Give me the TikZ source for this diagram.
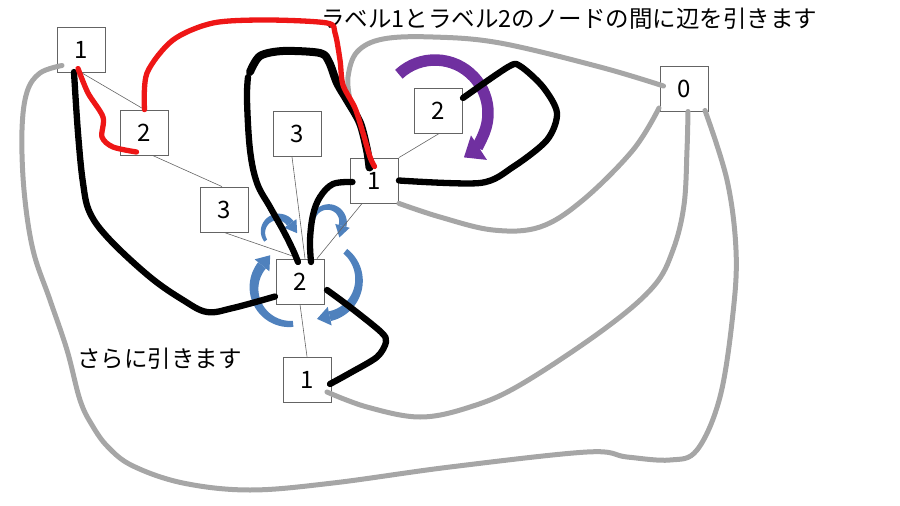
\documentclass[tikz,border=0pt]{standalone}
\usepackage{fontspec}
\setmainfont{Noto Sans CJK JP}
\usetikzlibrary{arrows.meta,calc}
\definecolor{lgray}{RGB}{166,166,166}
\definecolor{tgray}{RGB}{100,100,100}
\definecolor{bred}{RGB}{238,22,22}
\definecolor{vpurple}{RGB}{112,48,160}
\definecolor{sblue}{RGB}{79,129,189}
% tapered curved arrow: cx, cy, r, start angle, end angle, start width, end width, head length, head width
\newcommand\taparrow[9]{%
 \fill[sblue] plot[domain=#4:#5, samples=40] ({#1+(#3+(#6+(#7-#6)*(\x-#4)/(#5-#4))/2)*cos(\x)},{#2+(#3+(#6+(#7-#6)*(\x-#4)/(#5-#4))/2)*sin(\x)})
   -- plot[domain=#5:#4, samples=40] ({#1+(#3-(#6+(#7-#6)*(\x-#4)/(#5-#4))/2)*cos(\x)},{#2+(#3-(#6+(#7-#6)*(\x-#4)/(#5-#4))/2)*sin(\x)}) -- cycle;
 \fill[sblue] ({#1+(#3+#9/2)*cos(#5)},{#2+(#3+#9/2)*sin(#5)}) -- ({#1+(#3-#9/2)*cos(#5)},{#2+(#3-#9/2)*sin(#5)}) -- ({#1+#3*cos(#5)-#8*sin(#5)},{#2+#3*sin(#5)+#8*cos(#5)}) -- cycle;
}
\begin{document}
\begin{tikzpicture}[x=1pt,y=-1pt,
  vbox/.style={draw=tgray, line width=0.8pt, fill=white, minimum width=48pt, minimum height=45pt, inner sep=0pt, font=\fontsize{24}{28}\selectfont},
  tree/.style={draw=tgray, line width=0.6pt},
  grayedge/.style={draw=lgray, line width=5pt, line cap=round, line join=round},
  blackedge/.style={draw=black, line width=6.3pt, line cap=round, line join=round},
  rededge/.style={draw=bred, line width=5.3pt, line cap=round, line join=round},
  purplearrow/.style={draw=vpurple, line width=11.5pt, -{Triangle[length=18pt,width=28pt]}},
  lbl/.style={font=\fontsize{23.5}{28}\selectfont, inner sep=0pt, anchor=west}
]
\path[use as bounding box] (0,0) rectangle (900,506);

% nodes
\node[vbox] (A1) at (81,49.5) {1};
\node[vbox] (B2) at (144.5,132.5) {2};
\node[vbox] (C3) at (224,209.5) {3};
\node[vbox] (D3) at (297,134) {3};
\node[vbox] (E1) at (374.5,180.5) {1};
\node[vbox] (F2) at (438.5,111) {2};
\node[vbox] (G0) at (684.5,88.5) {0};
\node[vbox] (H2) at (300,281.5) {2};
\node[vbox] (I1) at (307,379.5) {1};

% labels
\node[lbl] (T1) at (321,19) {ラベル1とラベル2のノードの間に辺を引きます};
\node[lbl] (T2) at (77,359) {さらに引きます};

% rotation arrows around node H2
\begin{scope}[shift={(H2.center)}]
  \taparrow{-22}{-49.5}{15}{145}{325}{3.5}{8}{12}{15}
  \taparrow{28}{-59.5}{15}{180}{375}{3.5}{8}{12}{15}
  \taparrow{-10}{6.5}{36}{85}{219}{6}{10}{13}{19}
  \taparrow{22}{-1.5}{37}{309}{438}{6}{10}{13}{19}
\end{scope}
% rotation arrow around node F2
\draw[purplearrow] ($(F2.center)+(-3.5,2)+(-133:53)$) arc[start angle=-133, end angle=57, radius=53];

% tree lines
\draw[tree] (A1.south) -- (B2.north);
\draw[tree] ([xshift=8pt]B2.south) -- ([xshift=-2pt]C3.north);
\draw[tree] (C3.south) -- (H2.north);
\draw[tree] ([xshift=-5pt]D3.south) -- ([xshift=5pt]H2.north);
\draw[tree] ([xshift=12pt]E1.south west) -- ([xshift=17pt]H2.north);
\draw[tree] (E1.north east) -- (F2.south);
\draw[tree] (H2.south) -- (I1.north);

% anchor points of curves
\coordinate (a1g) at ($(A1.center)+(-19,16)$);
\coordinate (a1b) at ($(A1.center)+(-7,22.5)$);
\coordinate (a1r) at ($(A1.center)+(-3,19)$);
\coordinate (b2r) at ($(B2.center)+(-8,19.5)$);
\coordinate (e1r) at ($(E1.center)+(0,-14)$);
\coordinate (e1h) at ($(E1.center)+(-5,-13)$);
\coordinate (e1w) at ($(E1.center)+(-22,1.5)$);
\coordinate (f2b) at ($(F2.center)+(24.5,-13)$);
\coordinate (g0w) at ($(G0.center)+(-21,-2.5)$);
\coordinate (g0sw) at ($(G0.center)+(-25.5,19.5)$);
\coordinate (g0s) at ($(G0.center)+(3.5,23)$);
\coordinate (g0se) at ($(G0.center)+(20.5,22)$);
\coordinate (h2w) at ($(H2.center)+(-25,15)$);
\coordinate (h2n1) at ($(H2.center)+(-2,-19.5)$);
\coordinate (h2n2) at ($(H2.center)+(11,-19.5)$);
\coordinate (h2e) at ($(H2.center)+(27,8.5)$);
\coordinate (i1e) at ($(I1.center)+(23,4.5)$);
\coordinate (i1g) at ($(I1.center)+(20,12.5)$);
\coordinate (gfree) at (350,100);
\coordinate (hookfree) at (250,72);
\coordinate (descfree) at (248,77);

% gray edges
\draw[grayedge] plot[smooth, tension=0.6] coordinates {(g0w) (600,67) (500,43) (433,37) (383,39) (357,52) (348,77) (gfree)};
\draw[grayedge] plot[smooth, tension=0.6] coordinates {(a1g) (40,73) (27,92) (22,130) (24,190) (33,250) (50,300) (67,350) (80,400) (92,425) (108,447) (133,466) (183,483) (250,490) (333,483) (450,467) (587,452) (627,457) (670,460) (697,450) (720,397) (733,313) (736,250) (727,180) (g0se)};
\draw[grayedge] plot[smooth, tension=0.6] coordinates {(i1g) (367,407) (420,417) (470,407) (520,385) (603,330) (653,287) (673,250) (684,205) (687,150) (g0s)};
\draw[grayedge] plot[smooth, tension=0.6] coordinates {(E1.south east) (440,217) (493,230) (540,227) (583,200) (633,150) (g0sw)};

% black edges
\draw[blackedge] plot[smooth, tension=0.6] coordinates {(a1b) (78,133) (83,183) (90,213) (110,240) (150,277) (183,300) (207,312) (233,308) (h2w)};
\draw[blackedge, line width=8pt] plot[smooth, tension=0.5] coordinates {(hookfree) (260,56) (283,51) (320,53) (329,62) (337,83) (347,100) (360,123) (367,150) (e1h)};
\draw[blackedge] plot[smooth, tension=0.6] coordinates {(descfree) (247,100) (250,150) (257,183) (270,207) (283,230) (293,250) (h2n1)};
\draw[blackedge] plot[smooth, tension=0.6] coordinates {(e1w) (333,184) (320,197) (313,215) (310,240) (h2n2)};
\draw[blackedge] plot[smooth, tension=0.5] coordinates {(E1.east) (480,183) (513,167) (547,140) (557,113) (543,87) (520,66) (508,67) (f2b)};
\draw[blackedge] plot[smooth, tension=0.5] coordinates {(h2e) (350,307) (381,332) (386,342) (377,357) (350,373) (i1e)};

% red edges
\draw[rededge] plot[smooth, tension=0.5] coordinates {(a1r) (88,93) (103,117) (102,137) (113,147) (b2r)};
\draw[rededge] plot[smooth, tension=0.5] coordinates {(B2.north) (147,73) (173,40) (213,23) (267,20) (327,23) (335,33) (340,60) (343,85) (355,108) (363,133) (370,157) (e1r)};
\end{tikzpicture}
\end{document}
